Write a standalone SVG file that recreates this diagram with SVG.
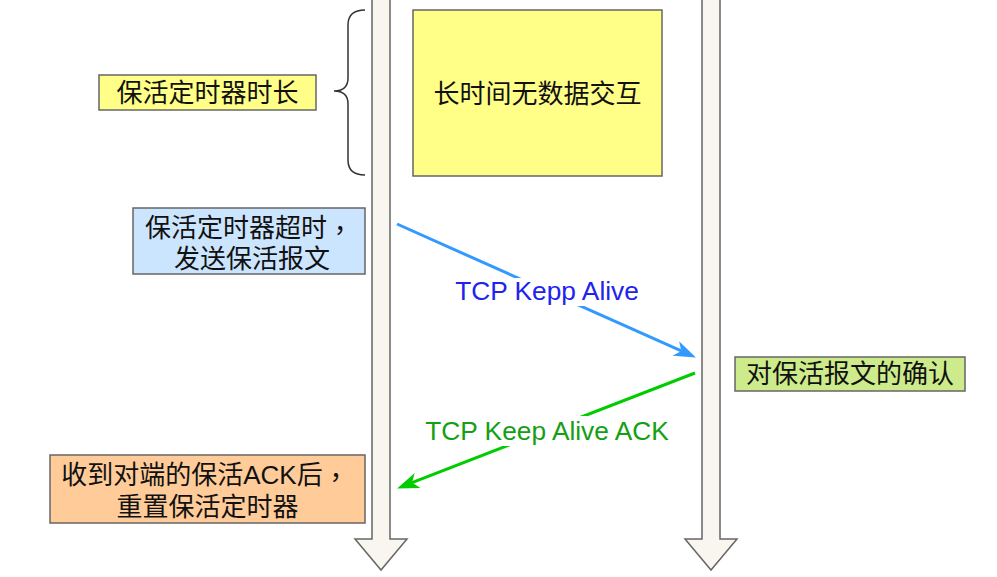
<svg xmlns="http://www.w3.org/2000/svg" width="997" height="577" viewBox="0 0 997 577">
<style>
.t{font-family:"Liberation Sans","Noto Sans CJK SC",sans-serif;font-size:26px;fill:#111;text-anchor:middle;dominant-baseline:central}
.c{font-family:"Noto Sans CJK TC",sans-serif}
.en{font-family:"Liberation Sans",Arial,sans-serif;font-size:26.3px;text-anchor:middle;dominant-baseline:central}
.box{stroke:#666;stroke-width:1.5}
.life{fill:#f8f6ef;stroke:#666;stroke-width:1.5}
</style>
<defs>
<marker id="ab" markerUnits="userSpaceOnUse" markerWidth="26" markerHeight="20" viewBox="0 0 26 20" refX="7" refY="10" orient="auto"><path d="M1,2 L23,10 L1,18 L7,10 Z" fill="#3399ff"/></marker>
<marker id="ag" markerUnits="userSpaceOnUse" markerWidth="26" markerHeight="20" viewBox="0 0 26 20" refX="7" refY="10" orient="auto"><path d="M1,2 L23,10 L1,18 L7,10 Z" fill="#00cc00"/></marker>
</defs>
<g id="lifeline-left"><path class="life" d="M372,-5 L390,-5 L390,539 L407,539 L381,570 L355,539 L372,539 Z"/></g>
<g id="lifeline-right"><path class="life" d="M702,-5 L720,-5 L720,539 L737,539 L711,570 L685,539 L702,539 Z"/></g>
<g id="idle"><rect class="box" x="413" y="10" width="249" height="166" fill="#ffff88"/><text class="t" x="537.5" y="94">长时间无数据交互</text></g>
<g id="brace"><path d="M365,10 Q348,10 348,25 L348,78 Q348,91 334,91 Q348,91 348,104 L348,160 Q348,175 365,175" fill="none" stroke="#333" stroke-width="1.5"/></g>
<g id="timer-len"><rect class="box" x="99" y="75" width="217" height="35" fill="#ffff88"/><text class="t" x="207.5" y="93">保活定时器时长</text></g>
<g id="timeout"><rect class="box" x="133" y="208" width="232" height="66" fill="#cce5ff"/><text class="t" x="249" y="228">保活定时器超时<tspan class="c">，</tspan></text><text class="t" x="252" y="259">发送保活报文</text></g>
<g id="ack-note"><rect class="box" x="735" y="357" width="230" height="34" fill="#cdeb8b"/><text class="t" x="850" y="374">对保活报文的确认</text></g>
<g id="reset"><rect class="box" x="50" y="455" width="315" height="68" fill="#ffcc99"/><text class="t" x="205" y="475">收到对端的保活ACK后<tspan class="c">，</tspan></text><text class="t" x="207.5" y="507">重置保活定时器</text></g>
<g id="connectors">
<path d="M397,224 L681.3,350.9" stroke="#3399ff" stroke-width="3" fill="none" marker-end="url(#ab)"/>
<rect x="455" y="278" width="184" height="28" fill="#fff"/>
<text class="en" x="547" y="291" fill="#2222ee">TCP Kepp Alive</text>
<path d="M695,373 L412,482.6" stroke="#00cc00" stroke-width="3" fill="none" marker-end="url(#ag)"/>
<rect x="423" y="416" width="248" height="30" fill="#fff"/>
<text class="en" x="547" y="431" fill="#13a013">TCP Keep Alive ACK</text>
</g>
</svg>
